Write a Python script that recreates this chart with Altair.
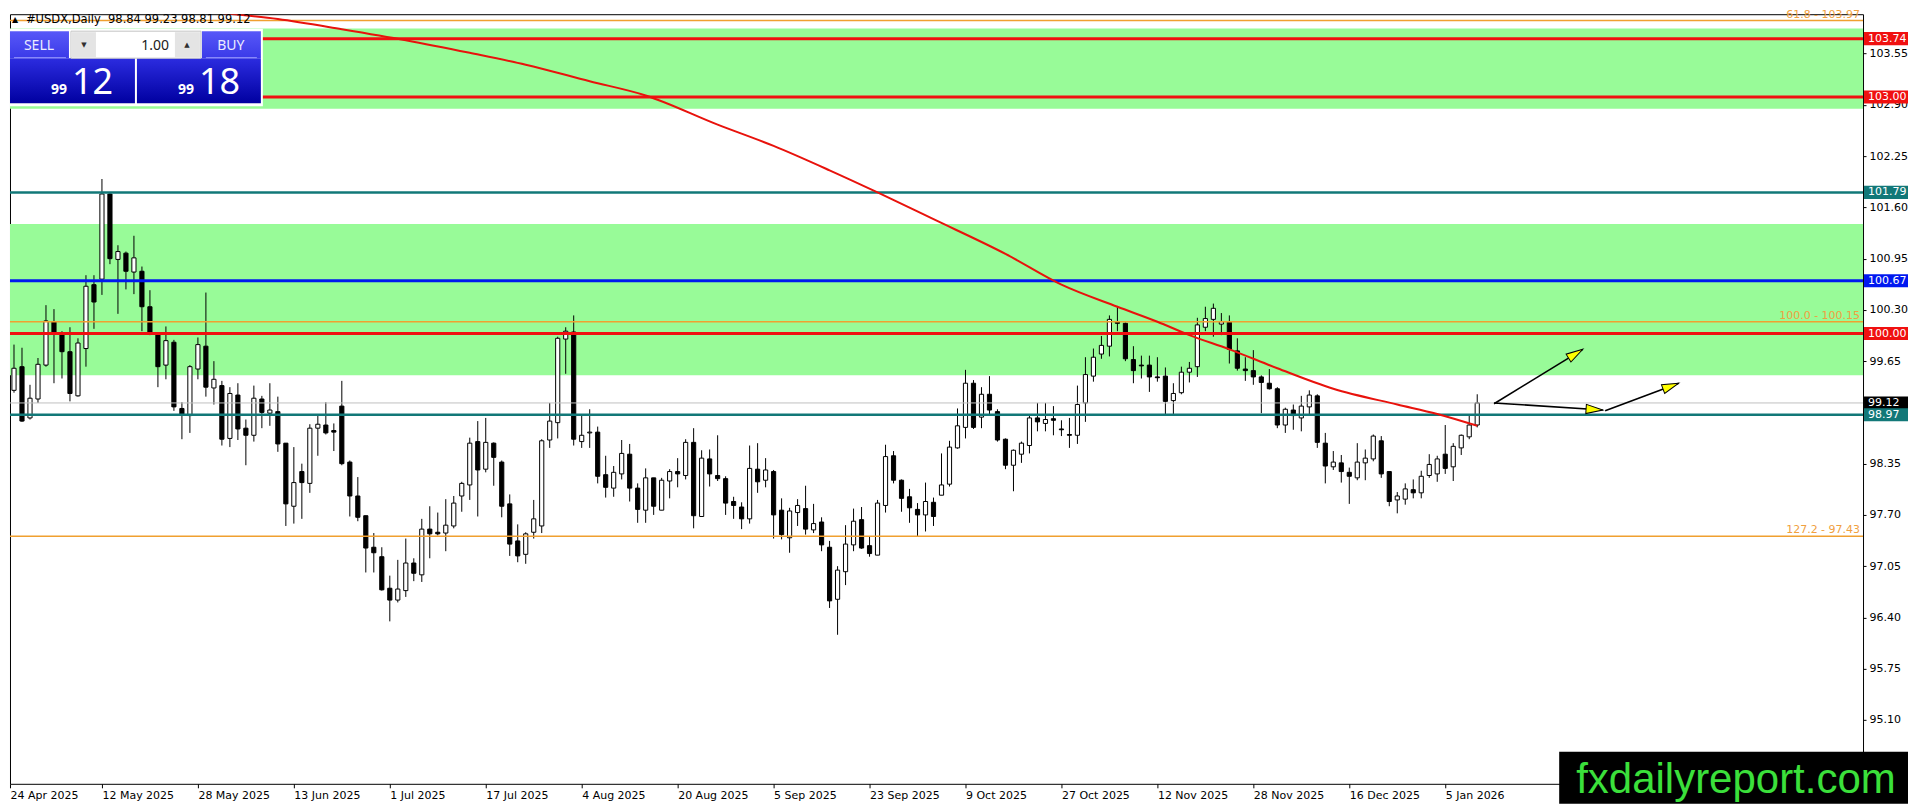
import math
import altair as alt
import pandas as pd

# ---------------- data ----------------
# daily candles, bar index 0 = 24 Apr 2025
OPEN = [99.81, 99.28, 99.58, 98.93, 99.17, 99.60, 100.15, 99.99, 99.77, 99.21,
        99.81, 100.62, 100.69, 101.77, 100.94, 101.02, 100.78, 100.79, 100.34, 99.99,
        99.60, 99.89, 99.05, 98.96, 99.55, 99.84, 99.31, 99.34, 98.67, 99.22,
        98.80, 98.71, 99.17, 98.99, 99.01, 98.61, 97.81, 98.25, 98.10, 98.80,
        98.84, 98.77, 99.08, 98.37, 97.94, 97.69, 97.29, 97.17, 96.77, 96.62,
        96.74, 97.09, 96.94, 97.52, 97.48, 97.47, 97.56, 97.94, 98.08, 98.63,
        98.28, 98.61, 98.37, 97.84, 97.37, 97.20, 97.48, 97.56, 98.65, 98.87,
        99.93, 100.02, 98.63, 98.74, 98.75, 98.21, 98.04, 98.22, 98.47, 98.04,
        97.76, 98.17, 97.76, 98.13, 98.25, 98.20, 98.62, 97.68, 98.41, 98.20,
        98.16, 97.87, 97.80, 97.65, 98.28, 98.14, 98.25, 97.76, 97.41, 97.73,
        97.78, 97.51, 97.61, 97.29, 96.63, 96.98, 97.32, 97.64, 97.31, 97.19,
        97.82, 98.45, 98.14, 97.93, 97.77, 97.70, 97.86, 97.95, 98.09, 98.55,
        98.81, 99.37, 98.94, 99.23, 99.01, 98.66, 98.33, 98.47, 98.58, 98.93,
        98.86, 98.92, 98.79, 98.72, 98.71, 99.12, 99.46, 99.74, 99.84, 100.15,
        100.13, 99.67, 99.60, 99.60, 99.45, 99.46, 99.15, 99.25, 99.51, 99.58,
        100.08, 100.18, 100.12, 100.15, 99.78, 99.55, 99.53, 99.45, 99.37, 99.30,
        98.84, 99.03, 98.93, 99.07, 99.21, 98.61, 98.31, 98.36, 98.24, 98.17,
        98.36, 98.41, 98.64, 98.25, 97.89, 97.90, 98.02, 97.98, 98.20, 98.22,
        98.47, 98.31, 98.55, 98.69, 98.84]
HIGH = [99.85, 99.86, 99.82, 99.35, 99.69, 100.36, 100.31, 100.03, 100.08, 99.94,
        100.74, 100.74, 101.96, 101.79, 101.12, 101.04, 101.24, 100.85, 100.55, 99.99,
        100.09, 99.92, 99.13, 99.60, 99.95, 100.52, 99.65, 99.40, 99.32, 99.37,
        98.91, 99.34, 99.21, 99.37, 99.20, 98.61, 98.56, 98.35, 98.85, 98.98,
        99.13, 98.86, 99.40, 98.39, 98.18, 97.69, 97.47, 97.29, 96.93, 97.13,
        97.40, 97.15, 97.65, 97.81, 97.73, 97.90, 97.94, 98.12, 98.68, 98.89,
        98.93, 98.62, 98.39, 97.96, 97.58, 97.48, 97.89, 98.66, 99.12, 99.96,
        100.08, 100.23, 98.96, 99.04, 98.82, 98.45, 98.32, 98.65, 98.60, 98.10,
        98.29, 98.17, 98.17, 98.28, 98.42, 98.66, 98.80, 98.52, 98.53, 98.71,
        98.19, 97.93, 97.86, 98.58, 98.61, 98.42, 98.27, 97.91, 97.79, 97.90,
        98.07, 97.84, 97.67, 97.37, 97.05, 97.57, 97.78, 97.80, 97.43, 97.89,
        98.59, 98.51, 98.15, 98.03, 97.85, 98.11, 97.92, 98.48, 98.64, 99.05,
        99.54, 99.41, 99.32, 99.46, 99.04, 98.67, 98.53, 98.63, 98.96, 99.12,
        99.12, 99.08, 98.90, 98.93, 99.34, 99.70, 99.81, 99.97, 100.23, 100.35,
        100.14, 99.84, 99.72, 99.72, 99.70, 99.57, 99.37, 99.58, 99.64, 100.20,
        100.34, 100.38, 100.26, 100.23, 99.94, 99.70, 99.79, 99.47, 99.55, 99.32,
        99.06, 99.10, 99.21, 99.28, 99.23, 98.74, 98.51, 98.46, 98.30, 98.61,
        98.53, 98.72, 98.70, 98.25, 97.99, 98.10, 98.15, 98.26, 98.47, 98.45,
        98.84, 98.61, 98.72, 98.96, 99.23]
LOW = [99.19, 99.25, 98.88, 98.91, 99.12, 99.58, 99.37, 99.43, 99.14, 99.20,
       99.58, 100.06, 100.49, 100.88, 100.25, 100.56, 100.50, 100.03, 99.98, 99.32,
       99.42, 99.02, 98.66, 98.74, 99.42, 99.20, 99.10, 98.58, 98.56, 98.65,
       98.33, 98.63, 98.80, 98.83, 98.50, 97.56, 97.59, 97.65, 97.98, 98.45,
       98.72, 98.51, 98.33, 97.68, 97.62, 96.97, 96.97, 96.74, 96.35, 96.59,
       96.66, 96.86, 96.85, 97.15, 97.44, 97.24, 97.53, 97.74, 97.89, 97.68,
       98.24, 98.07, 97.67, 97.18, 97.10, 97.08, 97.40, 97.47, 98.55, 98.67,
       99.49, 98.58, 98.55, 98.55, 98.10, 97.92, 97.93, 98.15, 97.87, 97.60,
       97.60, 97.70, 97.76, 97.91, 98.05, 98.15, 97.53, 97.68, 98.06, 98.13,
       97.70, 97.65, 97.52, 97.59, 97.98, 98.05, 97.40, 97.39, 97.22, 97.56,
       97.45, 97.47, 97.24, 96.52, 96.18, 96.81, 97.24, 97.27, 97.17, 97.19,
       97.73, 98.10, 97.74, 97.60, 97.43, 97.49, 97.56, 97.95, 98.06, 98.54,
       98.67, 98.79, 98.80, 98.96, 98.63, 98.28, 98.00, 98.36, 98.48, 98.76,
       98.76, 98.71, 98.70, 98.55, 98.60, 98.88, 99.39, 99.68, 99.71, 100.03,
       99.65, 99.37, 99.43, 99.26, 99.39, 98.96, 98.96, 99.23, 99.38, 99.45,
       100.03, 99.96, 99.98, 99.62, 99.53, 99.40, 99.35, 98.99, 99.29, 98.80,
       98.74, 98.78, 98.76, 98.98, 98.55, 98.10, 98.27, 98.11, 97.84, 98.14,
       98.14, 98.38, 98.17, 97.81, 97.72, 97.83, 97.91, 97.91, 98.17, 98.12,
       98.22, 98.13, 98.46, 98.66, 98.81]
CLOSE = [99.26, 99.56, 98.89, 99.18, 99.61, 100.16, 100.01, 99.77, 99.24, 99.88,
         100.60, 100.40, 101.77, 100.95, 101.04, 100.79, 100.96, 100.34, 100.01, 99.58,
         99.91, 99.07, 98.97, 99.58, 99.86, 99.32, 99.42, 98.66, 99.24, 98.79,
         98.71, 99.18, 99.00, 99.03, 98.60, 97.84, 98.11, 98.11, 98.80, 98.85,
         98.74, 98.75, 98.35, 97.94, 97.67, 97.28, 97.22, 96.75, 96.62, 96.76,
         97.09, 96.96, 97.52, 97.46, 97.46, 97.57, 97.85, 98.10, 98.61, 98.27,
         98.62, 98.43, 97.81, 97.33, 97.18, 97.46, 97.65, 98.64, 98.89, 99.94,
         100.03, 98.66, 98.71, 98.75, 98.19, 98.05, 98.24, 98.48, 98.04, 97.77,
         98.17, 97.81, 98.14, 98.25, 98.22, 98.62, 97.69, 98.42, 98.22, 98.16,
         97.85, 97.82, 97.65, 98.29, 98.12, 98.27, 97.70, 97.45, 97.75, 97.82,
         97.52, 97.59, 97.32, 96.61, 97.00, 97.33, 97.62, 97.28, 97.21, 97.85,
         98.44, 98.14, 97.91, 97.79, 97.70, 97.87, 97.68, 98.08, 98.56, 98.83,
         99.37, 98.81, 99.23, 99.03, 98.65, 98.33, 98.52, 98.61, 98.93, 98.88,
         98.91, 98.90, 98.78, 98.71, 99.10, 99.48, 99.70, 99.85, 100.18, 100.13,
         99.68, 99.53, 99.59, 99.45, 99.44, 99.14, 99.24, 99.51, 99.56, 100.11,
         100.19, 100.32, 100.15, 99.80, 99.56, 99.53, 99.45, 99.38, 99.30, 98.84,
         99.04, 98.96, 99.08, 99.22, 98.62, 98.32, 98.37, 98.25, 98.19, 98.37,
         98.42, 98.70, 98.22, 97.87, 97.94, 98.03, 97.98, 98.19, 98.34, 98.41,
         98.29, 98.57, 98.71, 98.84, 99.12]

DATE_LABELS = ["24 Apr 2025", "12 May 2025", "28 May 2025", "13 Jun 2025", "1 Jul 2025",
               "17 Jul 2025", "4 Aug 2025", "20 Aug 2025", "5 Sep 2025", "23 Sep 2025",
               "9 Oct 2025", "27 Oct 2025", "12 Nov 2025", "28 Nov 2025", "16 Dec 2025",
               "5 Jan 2026"]
DATE_TICKS = [0.5, 12, 24, 36, 48, 60, 72, 84, 96, 108, 120, 132, 144, 156, 168, 180]

# moving average (red curve)
MA_IDX = [20, 24, 34, 42, 50, 58, 65, 73, 80, 89, 96, 103, 109, 116, 125, 132,
          139, 144, 148, 153, 159, 166, 174, 179, 184]
MA_VAL = [104.16, 104.10, 103.99, 103.86, 103.72, 103.56, 103.41, 103.20, 103.02,
          102.65, 102.38, 102.07, 101.79, 101.45, 101.01, 100.62, 100.34, 100.15,
          99.98, 99.80, 99.56, 99.30, 99.10, 98.98, 98.83]

# green zones
ZONE_LO = [102.85, 99.47]
ZONE_HI = [103.87, 101.39]

# horizontal levels
LEVEL_P = [103.97, 100.15, 97.43, 99.12, 103.74, 103.00, 100.00, 101.79, 98.97, 100.67]
LEVEL_KIND = ["fib", "fib", "fib", "bid", "red", "red", "red", "teal", "teal", "blue"]

FIB_P = [103.97, 100.15, 97.43]
FIB_TEXT = ["61.8 - 103.97", "100.0 - 100.15", "127.2 - 97.43"]

TAG_P = [103.74, 103.00, 101.79, 100.67, 100.00, 99.12, 98.97]
TAG_KIND = ["red", "red", "teal", "blue", "red", "black", "teal"]

Y_TICKS = [95.10, 95.75, 96.40, 97.05, 97.70, 98.35, 99.00, 99.65, 100.30,
           100.95, 101.60, 102.25, 102.90, 103.55]

# hand-drawn arrows (bar index, price)
ARR_I1 = [186.1, 186.1, 200.0]
ARR_P1 = [99.11, 99.12, 99.02]
ARR_I2 = [197.2, 199.7, 209.2]
ARR_P2 = [99.80, 99.03, 99.37]

# ---------------- layout / style ----------------
W, H = 1854, 770
XDOM = [0.5, 0.5 + W / 8.0]
YDOM = [94.29, 104.05]
COLORS = {"red": "#f01010", "teal": "#127878", "blue": "#0018f0",
          "fib": "#f0a030", "bid": "#c0c0c0", "black": "#000000"}
WIDTHS = {"red": 3, "teal": 2.5, "blue": 3, "fib": 1.5, "bid": 1, "black": 1}
FONT = "DejaVu Sans"

xs = alt.Scale(domain=XDOM, zero=False, nice=False)
ys = alt.Scale(domain=YDOM, zero=False, nice=False)
label_arr = "[" + ",".join("'%s'" % s for s in DATE_LABELS) + "]"
xaxis = alt.Axis(values=DATE_TICKS, labelExpr=label_arr + "[round(datum.value/12)]",
                 labelAlign="left", labelBaseline="top", labelPadding=2, tickSize=4,
                 tickColor="black", labelColor="black", labelFont=FONT, labelFontSize=11,
                 domain=False, grid=False, title=None, labelFlush=False, labelOverlap=False)
yaxis = alt.Axis(orient="right", values=Y_TICKS, format=".2f", labelFont=FONT,
                 labelFontSize=11, labelColor="black", tickColor="black", tickSize=3,
                 labelPadding=3, domain=False, grid=False, title=None,
                 labelOverlap=False, labelFlush=False)


def X(f):
    return alt.X(f, scale=xs, axis=xaxis)


def Y(f):
    return alt.Y(f, scale=ys, axis=yaxis)


candles = pd.DataFrame({"i": list(range(len(OPEN))), "o": OPEN, "h": HIGH,
                        "l": LOW, "c": CLOSE})
candles["x0"] = candles["i"] - 0.26
candles["x1"] = candles["i"] + 0.26

zones = pd.DataFrame({"lo": ZONE_LO, "hi": ZONE_HI})
levels = pd.DataFrame({"p": LEVEL_P,
                       "col": [COLORS[k] for k in LEVEL_KIND],
                       "w": [WIDTHS[k] for k in LEVEL_KIND]})
fibs = pd.DataFrame({"p": FIB_P, "t": FIB_TEXT})
tags = pd.DataFrame({"p": TAG_P, "col": [COLORS[k] for k in TAG_KIND],
                     "t": ["%.2f" % v for v in TAG_P]})
ma = pd.DataFrame({"i": MA_IDX, "v": MA_VAL})

ppb = W / (XDOM[1] - XDOM[0])
ppu = H / (YDOM[1] - YDOM[0])
arrows = pd.DataFrame({"i1": ARR_I1, "p1": ARR_P1, "i2": ARR_I2, "p2": ARR_P2})
arrows["ang"] = [math.degrees(math.atan2(-(b2 - b1) * ppu, (a2 - a1) * ppb)) % 360
                 for a1, b1, a2, b2 in zip(ARR_I1, ARR_P1, ARR_I2, ARR_P2)]

dummy = alt.Data(values=[{"k": 1}])

layers = []

layers.append(alt.Chart(zones).mark_rect(color="#98fb98").encode(
    y=Y("lo:Q"), y2="hi:Q", x=alt.value(0), x2=alt.value(W)))

layers.append(alt.Chart(candles).mark_rule(color="black", strokeWidth=1, clip=True).encode(
    x=X("i:Q"), y=Y("l:Q"), y2="h:Q"))

layers.append(alt.Chart(candles).mark_rect(stroke="black", strokeWidth=1, clip=True).encode(
    x=X("x0:Q"), x2="x1:Q", y=Y("o:Q"), y2="c:Q",
    fill=alt.condition("datum.c >= datum.o", alt.value("white"), alt.value("black"))))

layers.append(alt.Chart(levels).mark_rule().encode(
    y=Y("p:Q"), color=alt.Color("col:N", scale=None),
    strokeWidth=alt.StrokeWidth("w:Q", scale=None)))

layers.append(alt.Chart(ma).mark_line(color="#e8120c", strokeWidth=2, clip=True,
                                      interpolate="monotone").encode(
    x=X("i:Q"), y=Y("v:Q")))

layers.append(alt.Chart(arrows).mark_rule(color="black", strokeWidth=1.6).encode(
    x=X("i1:Q"), y=Y("p1:Q"), x2="i2:Q", y2="p2:Q"))

layers.append(alt.Chart(arrows).mark_point(
    shape="M0,0L-2,-0.55L-2,0.55Z", size=280, fill="#ffff00", stroke="black",
    strokeWidth=1, opacity=1, fillOpacity=1).encode(
    x=X("i2:Q"), y=Y("p2:Q"), angle=alt.Angle("ang:Q", scale=None)))

layers.append(alt.Chart(fibs).mark_text(align="right", baseline="bottom", dy=-1,
                                        font=FONT, fontSize=11, color="#f0a040").encode(
    x=alt.value(W - 3), y=Y("p:Q"), text="t:N"))

layers.append(alt.Chart(tags).transform_calculate(
    lo="datum.p - 0.083", hi="datum.p + 0.083").mark_rect().encode(
    y=Y("lo:Q"), y2="hi:Q", x=alt.value(W + 1), x2=alt.value(W + 45),
    fill=alt.Color("col:N", scale=None)))

layers.append(alt.Chart(tags).mark_text(align="left", baseline="middle", font=FONT,
                                        fontSize=11, color="white").encode(
    x=alt.value(W + 5), y=Y("p:Q"), text="t:N"))

# ---- one-click trading panel (decoration) ----
def grad(c1, c2):
    return alt.LinearGradient(gradient="linear", x1=0, x2=0, y1=0, y2=1,
                              stops=[alt.GradientStop(offset=0, color=c1),
                                     alt.GradientStop(offset=1, color=c2)])


def box(x0, y0, x1, y1, **kw):
    return alt.Chart(dummy).mark_rect(**kw).encode(
        x=alt.value(x0), x2=alt.value(x1), y=alt.value(y0), y2=alt.value(y1))


def txt(x, y, s, **kw):
    return alt.Chart(dummy).mark_text(text=s, baseline="alphabetic", **kw).encode(
        x=alt.value(x), y=alt.value(y))


layers += [
    box(0, 14.5, 253, 92, fill="white"),
    box(0, 17, 59, 44, fill=grad("#5858f8", "#3a3ae8")),
    box(192, 17, 251, 44, fill=grad("#5858f8", "#3a3ae8")),
    box(0, 44, 125, 89, fill=grad("#2c2ce0", "#0000a0")),
    box(127, 44, 251, 89, fill=grad("#2c2ce0", "#0000a0")),
    box(61, 17, 191, 44, fill="white", stroke="#c4c4c4", strokeWidth=1),
    box(62, 18, 86, 43, fill="#e4e4e4"),
    box(165, 18, 190, 43, fill="#e4e4e4"),
    alt.Chart(dummy).mark_rule(color="#9a9aff", strokeWidth=1).encode(
        x=alt.value(4), x2=alt.value(56), y=alt.value(43.5)),
    alt.Chart(dummy).mark_rule(color="#9a9aff", strokeWidth=1).encode(
        x=alt.value(196), x2=alt.value(247), y=alt.value(43.5)),
    txt(29, 36, "SELL", align="center", font="Noto Sans", fontSize=14, color="#ececff"),
    txt(221, 36, "BUY", align="center", font="Noto Sans", fontSize=14, color="#ececff"),
    txt(159, 36, "1.00", align="right", font="Noto Sans", fontSize=14, color="#202020"),
    txt(74, 33, "▼", align="center", font=FONT, fontSize=7, color="#303030"),
    txt(177, 33, "▲", align="center", font=FONT, fontSize=7, color="#303030"),
    txt(57, 80, "99", align="right", font="Noto Sans", fontSize=14, fontWeight="bold",
        color="white"),
    txt(62, 80, "12", align="left", font="Noto Sans", fontSize=36, color="white"),
    txt(184, 80, "99", align="right", font="Noto Sans", fontSize=14, fontWeight="bold",
        color="white"),
    txt(189, 80, "18", align="left", font="Noto Sans", fontSize=36, color="white"),
    txt(5, 8, "▲", align="center", font=FONT, fontSize=8, color="black"),
    txt(16, 9, "#USDX,Daily\u00a0\u00a098.84\u00a099.23\u00a098.81\u00a099.12",
        align="left", font=FONT, fontSize=11.5, color="black"),
    # watermark
    box(1550, 738, 1899, 790, fill="black"),
    txt(1567, 779, "fxdailyreport.com", align="left", font="Liberation Sans",
        fontSize=42, color="#3be03b"),
]

chart = alt.layer(*layers).properties(
    width=W, height=H, padding={"left": 0, "right": 0, "top": 0, "bottom": 0},
    background="white"
).configure_view(stroke="black", strokeWidth=1)

chart.save("out.html", embed_options={"renderer": "svg", "actions": False})
